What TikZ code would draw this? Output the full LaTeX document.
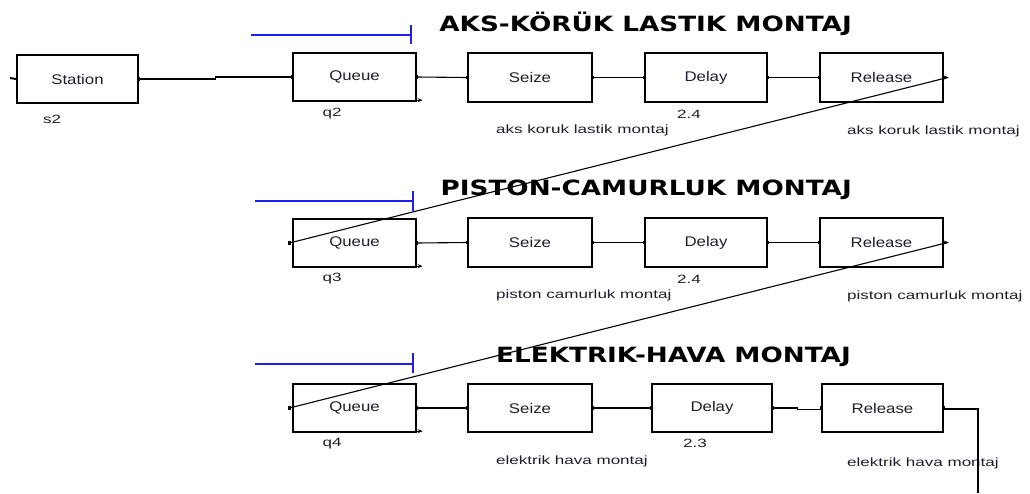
\documentclass[tikz,border=0pt]{standalone}
\usepackage{fontspec}
\setmainfont{Liberation Sans}
\newfontfamily\ttlfont{DejaVu Sans}
\usepackage{graphicx}
\usetikzlibrary{arrows.meta}
\newcommand\boxtxt[1]{\scalebox{1.2}[1]{\fontsize{14}{14}\selectfont #1}}
\newcommand\lbltxt[1]{\scalebox{1.42}[1]{\fontsize{12}{12}\selectfont #1}}
\newcommand\ttltxt[1]{\scalebox{1.25}[1]{\ttlfont\bfseries\fontsize{21}{21}\selectfont #1}}
\definecolor{txtc}{RGB}{30,30,40}
\definecolor{mblue}{RGB}{30,30,240}
\begin{document}
\begin{tikzpicture}[x=1pt,y=-1pt,
  blk/.style={draw, line width=1.3pt, minimum width=123pt, minimum height=48pt, inner sep=0pt, text=txtc},
  lbl/.style={inner sep=0pt, text=txtc},
  ttl/.style={inner sep=0pt, anchor=base east},
  conn/.style={line width=1.1pt},
  bluemark/.style={draw=mblue, line width=1.3pt},
  smalltip/.style={-{Stealth[length=5pt,width=4pt]}, line width=1pt}]
\useasboundingbox (0,0) rectangle (1030,493);

% titles
\node[ttl] (t1) at (852,31) {\ttltxt{AKS-KÖRÜK LASTIK MONTAJ}};
\node[ttl] (t2) at (852,195) {\ttltxt{PISTON-CAMURLUK MONTAJ}};
\node[ttl] (t3) at (851,362) {\ttltxt{ELEKTRIK-HAVA MONTAJ}};

% blue marks
\draw[bluemark] (251,35) -- (411,35); \draw[bluemark] (411,25) -- (411,44);
\draw[bluemark] (255,201) -- (413,201); \draw[bluemark] (413,191) -- (413,211);
\draw[bluemark] (255,364) -- (413,364); \draw[bluemark] (413,353) -- (413,373);

% row 1
\node[blk, minimum width=121pt] (st) at (77.5,79) {\boxtxt{Station}};
\node[blk] (q1) at (354.5,77) {\boxtxt{Queue}};
\node[blk, minimum width=124pt, minimum height=49pt] (s1) at (530,77.5) {\boxtxt{Seize}};
\node[blk, minimum width=122pt, minimum height=49pt] (d1) at (706,77.5) {\boxtxt{Delay}};
\node[blk, minimum height=49pt] (r1) at (881.5,77.5) {\boxtxt{Release}};

% row 2
\node[blk] (q2) at (354.5,243) {\boxtxt{Queue}};
\node[blk, minimum width=124pt, minimum height=49pt] (s2) at (530,242.5) {\boxtxt{Seize}};
\node[blk, minimum width=122pt, minimum height=49pt] (d2) at (706,242.5) {\boxtxt{Delay}};
\node[blk, minimum height=49pt] (r2) at (881.5,242.5) {\boxtxt{Release}};

% row 3
\node[blk] (q3) at (354.5,408) {\boxtxt{Queue}};
\node[blk, minimum width=124pt] (s3) at (530,408) {\boxtxt{Seize}};
\node[blk, minimum width=120pt] (d3) at (712,408) {\boxtxt{Delay}};
\node[blk, minimum width=121pt] (r3) at (882.5,408) {\boxtxt{Release}};

% labels
\node[lbl] (ls) at (52,119) {\lbltxt{s2}};
\node[lbl] (lq1) at (332,114) {\lbltxt{q2}};
\node[lbl] (lq2) at (332,279) {\lbltxt{q3}};
\node[lbl] (lq3) at (332,444) {\lbltxt{q4}};
\node[lbl] (ld1) at (689,114) {\lbltxt{2.4}};
\node[lbl] (ld2) at (689,279) {\lbltxt{2.4}};
\node[lbl] (ld3) at (695,443) {\lbltxt{2.3}};
\node[lbl, anchor=west] (ls1) at (496,130) {\lbltxt{aks koruk lastik montaj}};
\node[lbl, anchor=west] (ls2) at (496,295) {\lbltxt{piston camurluk montaj}};
\node[lbl, anchor=west] (ls3) at (496,461) {\lbltxt{elektrik hava montaj}};
\node[lbl, anchor=west] (lr1) at (847,131) {\lbltxt{aks koruk lastik montaj}};
\node[lbl, anchor=west] (lr2) at (847,296) {\lbltxt{piston camurluk montaj}};
\node[lbl, anchor=west] (lr3) at (847,463) {\lbltxt{elektrik hava montaj}};

% connectors
\coordinate (stin) at (10,78);
\draw[line width=2pt] (stin) -- (st.west);
\draw[conn] (st.east) -- ++(77,0) |- (q1.west);
\foreach \a/\b in {q1/s1,s1/d1,d1/r1,q2/s2,s2/d2,d2/r2,q3/s3,s3/d3}
  \draw[conn] (\a.east) -- (\b.west);
\draw[conn] (d3.east) -- ++(25,0) |- ([yshift=-1.5pt]r3.west);
\coordinate (end3) at (978,493);
\draw[conn] ([yshift=-1pt]r3.east) -| (end3);
\draw[conn] ([xshift=4pt]r1.east) -- ([xshift=-3pt]q2.west);
\draw[conn] ([xshift=4pt]r2.east) -- ([xshift=-3pt]q3.west);
\foreach \r in {r1,r2}
  \draw[smalltip] (\r.east) -- ++(5,0);
\foreach \q in {q1,q2,q3}
  \draw[smalltip] (\q.south east) ++(0,-1.5) -- ++(6,0);

% ports
\foreach \p in {st.east,q1.west,q1.east,s1.west,s1.east,d1.west,d1.east,r1.west,
                q2.east,s2.west,s2.east,d2.west,d2.east,r2.west,
                q3.east,s3.west,s3.east,d3.west,d3.east,r3.west,r3.east}
  \fill (\p) ++(-1.8,-1.8) rectangle ++(3.6,3.6);
\foreach \q in {q2,q3}
  \fill ([xshift=-3pt]\q.west) ++(-1.8,-1.8) rectangle ++(3.6,3.6);
\end{tikzpicture}
\end{document}
